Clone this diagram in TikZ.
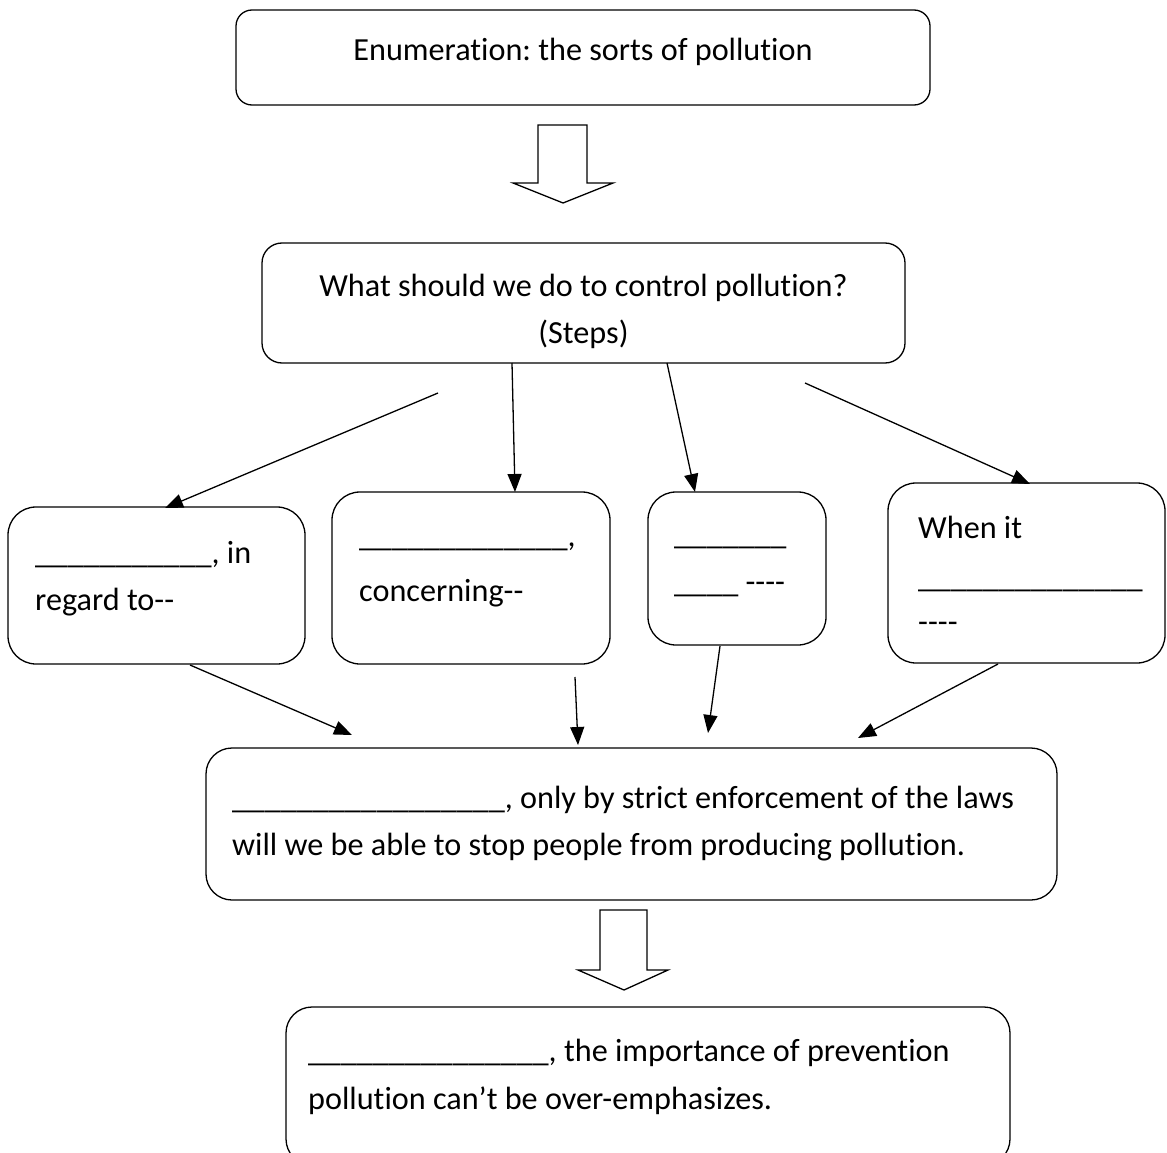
\documentclass[tikz,border=0pt]{standalone}
\usepackage{fontspec}
\setmainfont{Carlito}[Ligatures={NoCommon}]
\usetikzlibrary{arrows.meta}
\frenchspacing
\begin{document}
\begin{tikzpicture}[x=1pt,y=-1pt,
  boxnode/.style={draw,line width=1.3pt,inner sep=0pt},
  txt/.style={inner sep=0pt,font=\fontsize{32.2}{47}\selectfont},
  conn/.style={line width=1.3pt,-{Triangle[length=18pt,width=14pt]}},
  hollow/.style={draw,line width=1.3pt,fill=white,line join=miter}
]
\useasboundingbox (0,0) rectangle (1167,1153);
\fill[white] (0,0) rectangle (1167,1153);

% boxes
\node[boxnode,rounded corners=16pt,minimum width=694pt,minimum height=95pt] (top) at (583,57.5) {};
\node[boxnode,rounded corners=20pt,minimum width=643pt,minimum height=120pt] (mid) at (583.5,303) {};
\node[boxnode,rounded corners=28pt,minimum width=297pt,minimum height=157pt] (s1) at (156.5,585.5) {};
\node[boxnode,rounded corners=28pt,minimum width=278pt,minimum height=172pt] (s2) at (471,578) {};
\node[boxnode,rounded corners=28pt,minimum width=178pt,minimum height=153pt] (s3) at (737,568.5) {};
\node[boxnode,rounded corners=28pt,minimum width=277pt,minimum height=180pt] (s4) at (1026.5,573) {};
\node[boxnode,rounded corners=26pt,minimum width=851pt,minimum height=152pt] (law) at (631.5,824) {};
\node[boxnode,rounded corners=26pt,minimum width=724pt,minimum height=158pt] (end) at (648,1086) {};

% texts
\node[txt,anchor=base] (toptxt) at (583,61) {Enumeration: the sorts of pollution};
\node[txt,anchor=base] (midtxta) at (583.5,296) {What should we do to control pollution?};
\node[txt,anchor=base] (midtxtb) at (583.5,343) {(Steps)};
\node[txt,anchor=base west] (s1a) at (35,563) {\_\_\_\_\_\_\_\_\_\_\_, in};
\node[txt,anchor=base west] (s1b) at (35,610) {regard to-{}-};
\node[txt,anchor=base west] (s2a) at (359,546) {\_\_\_\_\_\_\_\_\_\_\_\_\_,};
\node[txt,anchor=base west] (s2b) at (359,601) {concerning-{}-};
\node[txt,anchor=base west] (s3a) at (674,544) {\_\_\_\_\_\_\_};
\node[txt,anchor=base west] (s3b) at (674,592) {\_\_\_\_ -{}-{}-{}-};
\node[txt,anchor=base west] (s4a) at (918,538) {When it};
\node[txt,anchor=base west] (s4b) at (918,587) {\_\_\_\_\_\_\_\_\_\_\_\_\_\_};
\node[txt,anchor=base west] (s4c) at (918,632) {-{}-{}-{}-};
\node[txt,anchor=base west] (lawa) at (232,808) {\_\_\_\_\_\_\_\_\_\_\_\_\_\_\_\_\_, only by strict enforcement of the laws};
\node[txt,anchor=base west] (lawb) at (232,855) {will we be able to stop people from producing pollution.};
\node[txt,anchor=base west] (enda) at (308,1061) {\_\_\_\_\_\_\_\_\_\_\_\_\_\_\_, the importance of prevention};
\node[txt,anchor=base west] (endb) at (308,1109) {pollution can’t be over-emphasizes.};

% hollow block arrows
\draw[hollow] (538,125) -- (587,125) -- (587,183) -- (613,183) -- (563,203) -- (513,183) -- (538,183) -- cycle;
\draw[hollow] (600,910) -- (647,910) -- (647,970) -- (668,970) -- (624,990) -- (578,970) -- (600,970) -- cycle;

% connector end points
\coordinate (a1s) at (438,393);
\coordinate (a1e) at (165,508);
\coordinate (a2s) at (512,363);
\coordinate (a2e) at (515,492);
\coordinate (a3s) at (667,363);
\coordinate (a3e) at (695,492);
\coordinate (a4s) at (805,383);
\coordinate (a4e) at (1030,484);
\coordinate (b1s) at (190,665);
\coordinate (b1e) at (352,735);
\coordinate (b2s) at (575,677);
\coordinate (b2e) at (578,745);
\coordinate (b3s) at (720,646);
\coordinate (b3e) at (708,733);
\coordinate (b4s) at (998,664);
\coordinate (b4e) at (858,738);

\draw[conn] (a1s) -- (a1e);
\draw[conn] (a2s) -- (a2e);
\draw[conn] (a3s) -- (a3e);
\draw[conn] (a4s) -- (a4e);
\draw[conn] (b1s) -- (b1e);
\draw[conn] (b2s) -- (b2e);
\draw[conn] (b3s) -- (b3e);
\draw[conn] (b4s) -- (b4e);
\end{tikzpicture}
\end{document}
